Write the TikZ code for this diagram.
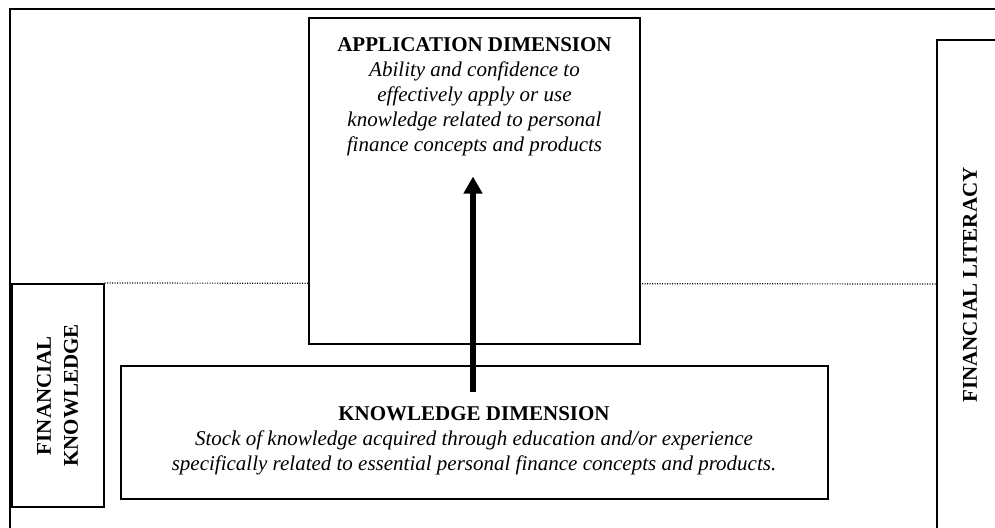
\documentclass[tikz,border=0pt]{standalone}
\usepackage{fontspec}
\setmainfont{Liberation Serif}
\usetikzlibrary{arrows.meta}

\tikzset{
  box/.style={draw=black, line width=1pt, fill=white, inner sep=0pt},
  label/.style={align=center, font=\fontsize{10.5}{12.5}\selectfont},
  side/.style={align=center, rotate=90, font=\fontsize{10.5}{13.5}\selectfont\bfseries}
}

\begin{document}
\begin{tikzpicture}[x=0.5pt, y=-0.5pt]
\useasboundingbox (0,0) rectangle (995,527);

% outer frame and literacy column, both running off the page
\draw[line width=1pt] (9.5,560) |- (1030,8.5);
\draw[line width=1pt] (937,560) |- (1030,39.5);
\node [side] (literacy) at (970,285) {FINANCIAL LITERACY};

% financial knowledge box
\node [box, minimum width=46pt, minimum height=111.5pt] (finknow) at (57.5,395.5) {};
\node [side] (finknowtext) at (finknow.center) {FINANCIAL\\KNOWLEDGE};

% dotted divider
\draw[line width=0.6pt, dash pattern=on 0.5pt off 0.75pt] (finknow.north east) -- (937,284);

% application dimension
\node [box, minimum width=165.5pt, minimum height=163pt] (appbox) at (474.5,180.5) {};
\node [label, anchor=north] (apptext) at ([yshift=-7pt]appbox.north) {%
  \textbf{APPLICATION DIMENSION}\\
  \textit{Ability and confidence to}\\
  \textit{effectively apply or use}\\
  \textit{knowledge related to personal}\\
  \textit{finance concepts and products}};

% knowledge dimension
\node [box, minimum width=353.5pt, minimum height=66.5pt] (knowbox) at (474,432.5) {};
\node [label] (knowtext) at (474,441) {%
  \textbf{KNOWLEDGE DIMENSION}\\
  \textit{Stock of knowledge acquired through education and/or experience}\\
  \textit{specifically related to essential personal finance concepts and products.}};

% arrow from knowledge up to application
\coordinate (arrowstart) at (473,391.5);
\coordinate (arrowend) at (473,176.5);
\draw[line width=2.7pt, -{Triangle[width=9pt,length=8.5pt]}] (arrowstart) -- (arrowend);
\end{tikzpicture}
\end{document}
